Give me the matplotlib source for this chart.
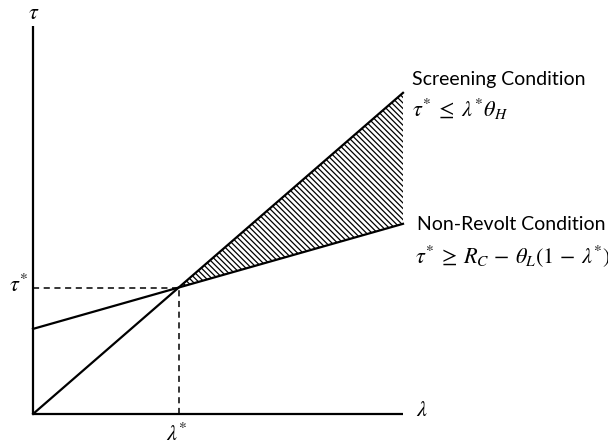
import matplotlib

matplotlib.use("Agg")
import matplotlib.pyplot as plt

plt.rcParams["mathtext.fontset"] = "stix"

# model parameters (axis units: lambda from 0 to 1)
theta_H = 0.868
theta_L = 0.284
R_C = 0.514
lam_max = 1.0
tau_axis_top = 1.05

lam_star = (R_C - theta_L) / (theta_H - theta_L)
tau_star = theta_H * lam_star

lam_line = [0.0, lam_max]
screening = [theta_H * x for x in lam_line]
non_revolt = [R_C - theta_L * (1 - x) for x in lam_line]

lam_fill = [lam_star, lam_max]
fill_top = [theta_H * x for x in lam_fill]
fill_bot = [R_C - theta_L * (1 - x) for x in lam_fill]

fig = plt.figure(figsize=(6.08, 4.46), dpi=100)
ax = fig.add_axes([0, 0, 1, 1])
px = 370.0
ax.set_xlim(-33 / px, (608 - 33) / px)
ax.set_ylim((414 - 446) / px, 414 / px)
ax.axis("off")

# axes
ax.plot([0, 0], [0, tau_axis_top], color="black", lw=1.6, solid_capstyle="butt")
ax.plot([0, lam_max], [0, 0], color="black", lw=1.6, solid_capstyle="butt")

# hatched region between the two conditions
plt.rcParams["hatch.linewidth"] = 0.9
ax.fill_between(lam_fill, fill_bot, fill_top, facecolor="white", edgecolor="black",
                hatch="\\\\\\\\\\\\", linewidth=0)

ax.plot(lam_line, screening, color="black", lw=1.6)
ax.plot(lam_line, non_revolt, color="black", lw=1.6)

# dashed guides to the equilibrium
ax.plot([0, lam_star], [tau_star, tau_star], color="black", lw=1.1, ls=(0, (4, 3)))
ax.plot([lam_star, lam_star], [0, tau_star], color="black", lw=1.1, ls=(0, (4, 3)))

math = dict(fontsize=16, color="black")
ax.text(0.003, 1.085, r"$\tau$", ha="center", va="center", **math)
ax.text(1.05, 0.012, r"$\lambda$", ha="center", va="center", **math)
ax.text(-0.012, tau_star + 0.008, r"$\tau^{*}$", ha="right", va="center", **math)
ax.text(lam_star - 0.005, -0.052, r"$\lambda^{*}$", ha="center", va="center", **math)

label = dict(fontsize=14, family="Lato", color="black")
ax.text(1.025, 0.905, "Screening Condition", ha="left", va="center", **label)
ax.text(1.025, 0.822, r"$\tau^{*}\;\leq\;\lambda^{*}\theta_{H}$", ha="left", va="center", **math)
ax.text(1.038, 0.513, "Non-Revolt Condition", ha="left", va="center", **label)
ax.text(1.032, 0.428, r"$\tau^{*}\:\geq\:R_{C}\,-\,\theta_{L}(1\,-\,\lambda^{*})$",
        ha="left", va="center", **math)

fig.savefig("out.png", dpi=100)
